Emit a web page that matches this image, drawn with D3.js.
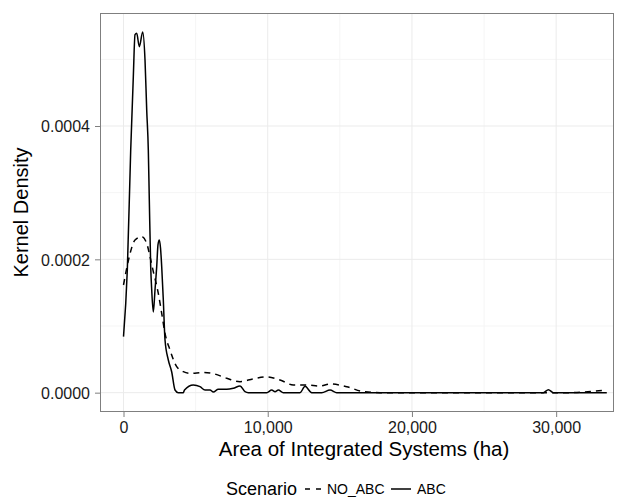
<!DOCTYPE html>
<html><head><meta charset="utf-8">
<script src="https://cdn.jsdelivr.net/npm/d3@7"></script>
<style>body{margin:0;background:#fff}svg{display:block;font-family:"Liberation Sans",Arial,sans-serif}</style>
</head><body><svg id="c" width="628" height="498"></svg>
<script>
// ---- data ----
const abcX = [0,264,499,680,798,915,1096,1331,1491,1609,1720,1789,1886,1956,2067,2184,2302,2392,2483,2566,2649,2760,2878,3107,3343,3571,3800,4147,4230,4841,5305,5652,5999,6228,6574,7157,7615,8079,8426,8655,9931,10278,10507,10735,11082,12240,12587,13051,13745,14320,14785,29112,29459,29805,33510];
const abcY = [0.0000840,0.0001840,0.000364,0.000474,0.000537,0.000539,0.000519,0.000541,0.000499,0.000424,0.000364,0.000289,0.000189,0.000154,0.000121,0.000154,0.000189,0.000222,0.000229,0.000217,0.000189,0.000139,0.0000790,0.0000490,0.0000310,0.0000040,0.0000000,0.0000000,0.0000040,0.0000115,0.0000090,0.0000040,0.0000040,0.0000010,0.0000050,0.0000050,0.0000066,0.0000100,0.0000015,0.0000000,0.0000000,0.0000040,0.0000015,0.0000040,0.0000000,0.0000000,0.0000095,0.0000000,0.0000000,0.0000040,0.0000000,0.0000000,0.0000045,0.0000000,0.0000000];
const noAbcX = [0,346,798,1262,1609,1838,2067,2413,2649,2878,3225,3689,4147,4612,5534,6228,7157,8079,9001,9931,10853,11775,12698,13627,14320,15479,16630,17788,30734,31657,32580,33510];
const noAbcY = [0.0001615,0.0001990,0.0002290,0.0002340,0.0002240,0.0002040,0.0001815,0.0001490,0.0001190,0.0000890,0.0000640,0.0000390,0.0000315,0.0000290,0.0000303,0.0000285,0.0000216,0.0000165,0.0000208,0.0000237,0.0000190,0.0000115,0.0000115,0.0000100,0.0000130,0.0000090,0.0000015,0.0000000,0.0000000,0.0000005,0.0000021,0.0000040];
const xMajor = [0,10000,20000,30000];
const xMinor = [5000,15000,25000];
const yMajor = [0,0.0002,0.0004];
const yMinor = [0.0001,0.0003,0.0005];
const seriesNames = ["NO_ABC","ABC"];

// ---- layout ----
const P = {l:100, r:614, t:13, b:412};
const svg = d3.select("#c");
const x = d3.scaleLinear().domain([-1630, 34010]).range([P.l, P.r]);
const y = d3.scaleLinear().domain([-0.000029, 0.0005695]).range([P.b, P.t]);

const g = svg.append("g");
// grid
g.selectAll(".xmin").data(xMinor).join("line").attr("x1",d=>x(d)).attr("x2",d=>x(d)).attr("y1",P.t).attr("y2",P.b).attr("stroke","#f5f5f5").attr("stroke-width",1);
g.selectAll(".ymin").data(yMinor).join("line").attr("y1",d=>y(d)).attr("y2",d=>y(d)).attr("x1",P.l).attr("x2",P.r).attr("stroke","#f5f5f5").attr("stroke-width",1);
g.selectAll(".xmaj").data(xMajor).join("line").attr("x1",d=>x(d)).attr("x2",d=>x(d)).attr("y1",P.t).attr("y2",P.b).attr("stroke","#ebebeb").attr("stroke-width",1);
g.selectAll(".ymaj").data(yMajor).join("line").attr("y1",d=>y(d)).attr("y2",d=>y(d)).attr("x1",P.l).attr("x2",P.r).attr("stroke","#ebebeb").attr("stroke-width",1);

// curves
const line = d3.line().x(d=>x(d[0])).y(d=>y(d[1])).curve(d3.curveMonotoneX);
const noAbc = noAbcX.map((v,i)=>[v,noAbcY[i]]);
const abc = abcX.map((v,i)=>[v,abcY[i]]);
g.append("path").attr("d",line(noAbc)).attr("fill","none").attr("stroke","#000").attr("stroke-width",1.5).attr("stroke-dasharray","6,5");
g.append("path").attr("d",line(abc)).attr("fill","none").attr("stroke","#000").attr("stroke-width",1.5);

// border
g.append("rect").attr("x",P.l+0.5).attr("y",P.t+0.5).attr("width",P.r-P.l-1).attr("height",P.b-P.t-1).attr("fill","none").attr("stroke","#7f7f7f").attr("stroke-width",1);

// axes
const xAxis = d3.axisBottom(x).tickValues(xMajor).tickSize(5).tickPadding(5).tickFormat(d3.format(",d"));
const yAxis = d3.axisLeft(y).tickValues(yMajor).tickSize(5).tickPadding(5).tickFormat(d3.format(".4f"));
const ax = svg.append("g").attr("transform",`translate(0,${P.b})`).call(xAxis);
const ay = svg.append("g").attr("transform",`translate(${P.l},0)`).call(yAxis);
[ax,ay].forEach(a=>{
  a.select(".domain").remove();
  a.selectAll(".tick line").attr("stroke","#7f7f7f");
  a.selectAll(".tick text").attr("fill","#1a1a1a").style("font-size","16px");
});
ay.selectAll(".tick text").attr("dy","0.36em");

// axis titles
svg.append("text").attr("x",364).attr("y",456).attr("text-anchor","middle").style("font-size","20.5px").attr("fill","#000").text("Area of Integrated Systems (ha)");
svg.append("text").attr("transform",`translate(28,${(P.t+P.b)/2}) rotate(-90)`).attr("text-anchor","middle").style("font-size","20px").attr("fill","#000").text("Kernel Density");

// legend
const lg = svg.append("g");
const ly = 489;
lg.append("text").attr("x",226).attr("y",ly+6).style("font-size","18px").text("Scenario");
const keys = [{name:seriesNames[0],dash:"5,6",kx:305,kw:16},{name:seriesNames[1],dash:null,kx:391,kw:20}];
keys.forEach(k=>{
  lg.append("line").attr("x1",k.kx).attr("x2",k.kx+k.kw).attr("y1",ly).attr("y2",ly).attr("stroke","#000").attr("stroke-width",1.5).attr("stroke-dasharray",k.dash);
  lg.append("text").attr("x",k.kx+k.kw+6).attr("y",ly+5).style("font-size","14px").text(k.name);
});
</script></body></html>
